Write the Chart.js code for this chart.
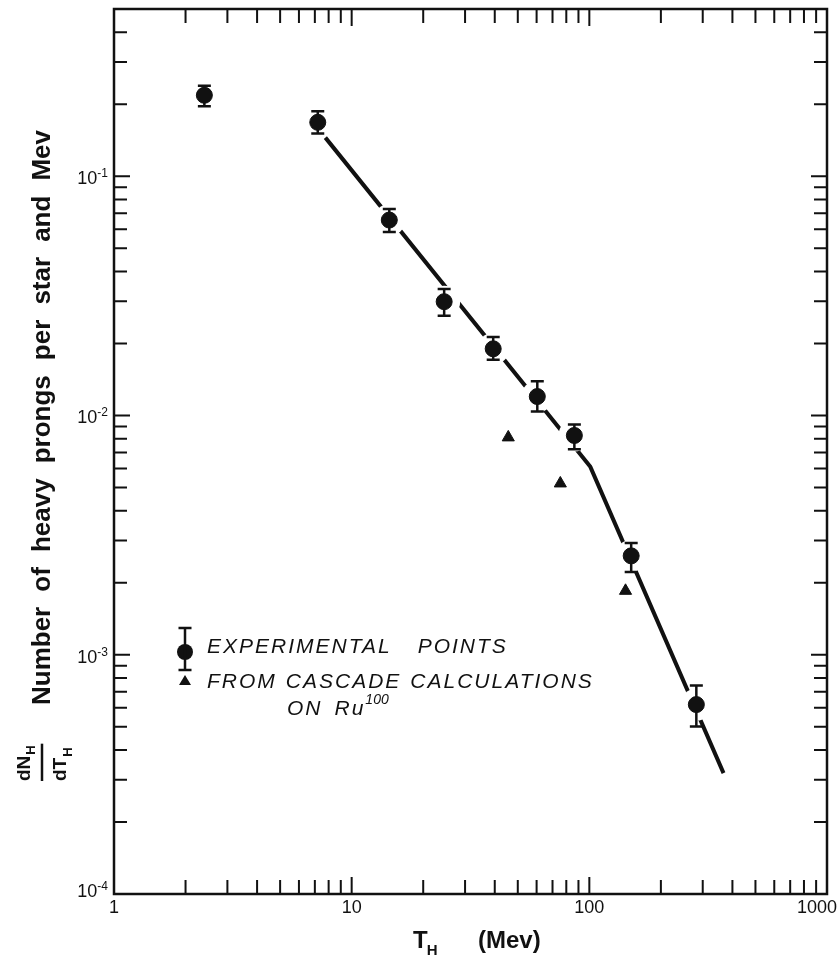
<!DOCTYPE html>
<html>
<head>
<meta charset="utf-8">
<script src="https://cdn.jsdelivr.net/npm/chart.js@4.4.1/dist/chart.umd.min.js"></script>
<style>
  html, body { margin: 0; padding: 0; background: #fff; }
  #wrap { width: 840px; height: 962px; }
</style>
</head>
<body>
<div id="wrap"><canvas id="chart"></canvas></div>
<script>
// axis ticks
var xMajor = [1, 10, 100, 1000];
var xLabels = ['1', '10', '100', '1000'];
var yMajor = [1e-4, 1e-3, 1e-2, 1e-1];
var yExponents = ['-4', '-3', '-2', '-1'];
var minorSteps = [2, 3, 4, 5, 6, 7, 8, 9];
var yTop = 0.5;

// experimental points (T_H in Mev, dN/dT) with error bar ends
var expEnergy = [2.4, 7.2, 14.4, 24.5, 39.4, 60.4, 86.5, 150, 282];
var expValue  = [0.218, 0.168, 0.0656, 0.0299, 0.0190, 0.0120, 0.00825, 0.00259, 0.000619];
var expLow    = [0.196, 0.151, 0.0584, 0.0261, 0.0171, 0.0104, 0.00722, 0.00222, 0.000501];
var expHigh   = [0.239, 0.187, 0.0729, 0.0338, 0.0213, 0.0139, 0.00917, 0.00293, 0.000743];

// cascade calculations on Ru100
var cascadeEnergy = [45.6, 75.5, 142];
var cascadeValue  = [0.0081, 0.0052, 0.00185];

// drawn fit line
var fitEnergy = [7.75, 101, 367];
var fitValue  = [0.145, 0.0061, 0.00032];

function ticksFor(majors, top) {
    var out = [];
    majors.forEach(function(m) {
        out.push(m);
        minorSteps.forEach(function(s) {
            if (m * s <= top * 1.0001) out.push(m * s);
        });
    });
    return out;
}
var xTickValues = ticksFor(xMajor.slice(0, 3), 1000).concat([1000]);
var yTickValues = ticksFor(yMajor, yTop);

function pts(xs, ys) {
    return xs.map(function(x, i) { return {x: x, y: ys[i]}; });
}

var ink = '#111';

function drawErrorMarker(ctx, x, yLo, yHi) {
    ctx.strokeStyle = ink;
    ctx.lineWidth = 2.5;
    ctx.beginPath();
    ctx.moveTo(x, yHi); ctx.lineTo(x, yLo);
    ctx.moveTo(x - 6.5, yHi); ctx.lineTo(x + 6.5, yHi);
    ctx.moveTo(x - 6.5, yLo); ctx.lineTo(x + 6.5, yLo);
    ctx.stroke();
}

// draw words one after another with given gaps
function wordsAt(ctx, words, gaps, x, y) {
    words.forEach(function(w, i) {
        ctx.fillText(w, x, y);
        x += ctx.measureText(w).width + (gaps[i] || 0);
    });
    return x;
}

var paperPlugin = {
    id: 'paper',
    beforeDraw: function(chart) {
        var ctx = chart.ctx;
        ctx.save();
        ctx.fillStyle = '#fff';
        ctx.fillRect(0, 0, chart.width, chart.height);
        ctx.restore();
    },
    beforeDatasetDraw: function(chart, args) {
        if (args.meta.label !== 'EXPERIMENTAL POINTS') return;
        var ctx = chart.ctx;
        var ys = chart.scales.y;
        ctx.save();
        // white halo breaks the fit line around each point
        args.meta.data.forEach(function(p) {
            ctx.fillStyle = '#fff';
            ctx.beginPath();
            ctx.arc(p.x, p.y, 16, 0, Math.PI * 2);
            ctx.fill();
        });
        args.meta.data.forEach(function(p, i) {
            drawErrorMarker(ctx, p.x, ys.getPixelForValue(expLow[i]), ys.getPixelForValue(expHigh[i]));
        });
        ctx.restore();
    },
    afterDraw: function(chart) {
        var ctx = chart.ctx;
        var a = chart.chartArea;
        var xs = chart.scales.x, ys = chart.scales.y;
        ctx.save();

        // frame
        ctx.strokeStyle = ink;
        ctx.lineWidth = 2.5;
        ctx.strokeRect(a.left, a.top, a.right - a.left, a.bottom - a.top);

        // inward ticks on all four sides
        ctx.lineWidth = 2;
        xs.ticks.forEach(function(t) {
            var px = xs.getPixelForValue(t.value);
            if (px <= a.left + 1 || px >= a.right - 1) return;
            var len = xMajor.indexOf(t.value) >= 0 ? 17 : 14;
            ctx.beginPath();
            ctx.moveTo(px, a.bottom); ctx.lineTo(px, a.bottom - len);
            ctx.moveTo(px, a.top); ctx.lineTo(px, a.top + len);
            ctx.stroke();
        });
        ys.ticks.forEach(function(t) {
            var py = ys.getPixelForValue(t.value);
            if (py <= a.top + 1 || py >= a.bottom - 1) return;
            var len = yMajor.indexOf(t.value) >= 0 ? 16 : 13;
            ctx.beginPath();
            ctx.moveTo(a.left, py); ctx.lineTo(a.left + len, py);
            ctx.moveTo(a.right, py); ctx.lineTo(a.right - len, py);
            ctx.stroke();
        });

        // x tick labels
        ctx.fillStyle = ink;
        ctx.font = '18px "Liberation Sans", Arial, sans-serif';
        ctx.textBaseline = 'middle';
        ctx.textAlign = 'center';
        xMajor.forEach(function(v, i) {
            var px = xs.getPixelForValue(v);
            var w = ctx.measureText(xLabels[i]).width;
            px = Math.min(px, chart.width - 3 - w / 2);
            ctx.fillText(xLabels[i], px, a.bottom + 14);
        });

        // y tick labels 10^n
        ctx.textBaseline = 'alphabetic';
        ctx.textAlign = 'left';
        yMajor.forEach(function(v, i) {
            var py = ys.getPixelForValue(v);
            var base = Math.min(py + 8, a.bottom + 3);
            ctx.font = '12px "Liberation Sans", Arial, sans-serif';
            var w2 = ctx.measureText(yExponents[i]).width;
            ctx.font = '18px "Liberation Sans", Arial, sans-serif';
            var w1 = ctx.measureText('10').width;
            var x0 = a.left - 6 - w2 - w1;
            ctx.fillText('10', x0, base);
            ctx.font = '12px "Liberation Sans", Arial, sans-serif';
            ctx.fillText(yExponents[i], x0 + w1, base - 7);
        });

        // x title: T_H  (Mev)
        ctx.font = 'bold 24px "Liberation Sans", Arial, sans-serif';
        ctx.fillText('T', 413, 948);
        var tw = ctx.measureText('T').width;
        ctx.font = 'bold 15px "Liberation Sans", Arial, sans-serif';
        ctx.fillText('H', 413 + tw - 1, 955);
        ctx.font = 'bold 24px "Liberation Sans", Arial, sans-serif';
        ctx.fillText('(Mev)', 478, 948);

        // y title, rotated
        var words = ['Number', 'of', 'heavy', 'prongs', 'per', 'star', 'and', 'Mev'];
        var span = 575;
        ctx.save();
        ctx.translate(43, 705);
        ctx.rotate(-Math.PI / 2);
        ctx.font = 'bold 26px "Liberation Sans", Arial, sans-serif';
        ctx.textBaseline = 'middle';
        var total = 0;
        words.forEach(function(wd) { total += ctx.measureText(wd).width; });
        var gap = (span - total) / (words.length - 1);
        wordsAt(ctx, words, words.map(function() { return gap; }), 0, 0);
        ctx.restore();

        // dN_H / dT_H fraction, rotated
        ctx.save();
        ctx.translate(0, 781);
        ctx.rotate(-Math.PI / 2);
        ctx.textBaseline = 'alphabetic';
        ctx.font = 'bold 19px "Liberation Sans", Arial, sans-serif';
        ctx.fillText('dN', 0, 30);
        var nw = ctx.measureText('dN').width;
        ctx.fillText('dT', 0, 66);
        var dw = ctx.measureText('dT').width;
        ctx.font = 'bold 13px "Liberation Sans", Arial, sans-serif';
        ctx.fillText('H', nw + 1, 35);
        ctx.fillText('H', dw + 1, 72);
        ctx.lineWidth = 2.5;
        ctx.beginPath();
        ctx.moveTo(0, 42); ctx.lineTo(Math.max(nw, dw) + 12, 42);
        ctx.stroke();
        ctx.restore();

        // legend
        ctx.fillStyle = ink;
        ctx.beginPath();
        ctx.arc(185, 652, 8, 0, Math.PI * 2);
        ctx.fill();
        drawErrorMarker(ctx, 185, 670, 628);
        ctx.beginPath();
        ctx.moveTo(185, 675); ctx.lineTo(191, 685); ctx.lineTo(179, 685);
        ctx.closePath();
        ctx.fill();

        ctx.font = 'italic 21px "Liberation Sans", Arial, sans-serif';
        ctx.letterSpacing = '2px';
        wordsAt(ctx, ['EXPERIMENTAL', 'POINTS'], [26], 207, 653);
        wordsAt(ctx, ['FROM', 'CASCADE', 'CALCULATIONS'], [9, 9], 207, 688);
        var ruEnd = wordsAt(ctx, ['ON', 'Ru'], [12, 0], 287, 715);
        ctx.font = 'italic 14px "Liberation Sans", Arial, sans-serif';
        ctx.letterSpacing = '0px';
        ctx.fillText('100', ruEnd, 704);
        ctx.restore();
    }
};

var ctx = document.getElementById('chart').getContext('2d');
var chart = new Chart(ctx, {
    type: 'scatter',
    data: {
        datasets: [
            {
                label: 'fit',
                data: pts(fitEnergy, fitValue),
                showLine: true,
                borderColor: ink,
                borderWidth: 4,
                borderJoinStyle: 'round',
                borderCapStyle: 'butt',
                pointRadius: 0,
                order: 3
            },
            {
                label: 'FROM CASCADE CALCULATIONS ON Ru100',
                data: pts(cascadeEnergy, cascadeValue),
                pointStyle: 'triangle',
                pointRadius: 7,
                backgroundColor: ink,
                borderColor: ink,
                borderWidth: 1,
                order: 2
            },
            {
                label: 'EXPERIMENTAL POINTS',
                data: pts(expEnergy, expValue),
                pointStyle: 'circle',
                pointRadius: 8,
                backgroundColor: ink,
                borderColor: ink,
                borderWidth: 1,
                order: 1
            }
        ]
    },
    options: {
        responsive: true,
        maintainAspectRatio: false,
        animation: false,
        devicePixelRatio: 1,
        layout: { padding: { top: 7, right: 13, left: 0, bottom: 0 } },
        plugins: { legend: { display: false }, tooltip: { enabled: false } },
        scales: {
            x: {
                type: 'logarithmic',
                min: 1,
                max: 1000,
                grid: { display: false },
                border: { display: false },
                ticks: { display: false },
                afterBuildTicks: function(s) {
                    s.ticks = xTickValues.map(function(v) { return {value: v}; });
                },
                afterFit: function(s) { s.height = 68; }
            },
            y: {
                type: 'logarithmic',
                min: 1e-4,
                max: yTop,
                grid: { display: false },
                border: { display: false },
                ticks: { display: false },
                afterBuildTicks: function(s) {
                    s.ticks = yTickValues.map(function(v) { return {value: v}; });
                },
                afterFit: function(s) { s.width = 114; }
            }
        }
    },
    plugins: [paperPlugin]
});
</script>
</body>
</html>
